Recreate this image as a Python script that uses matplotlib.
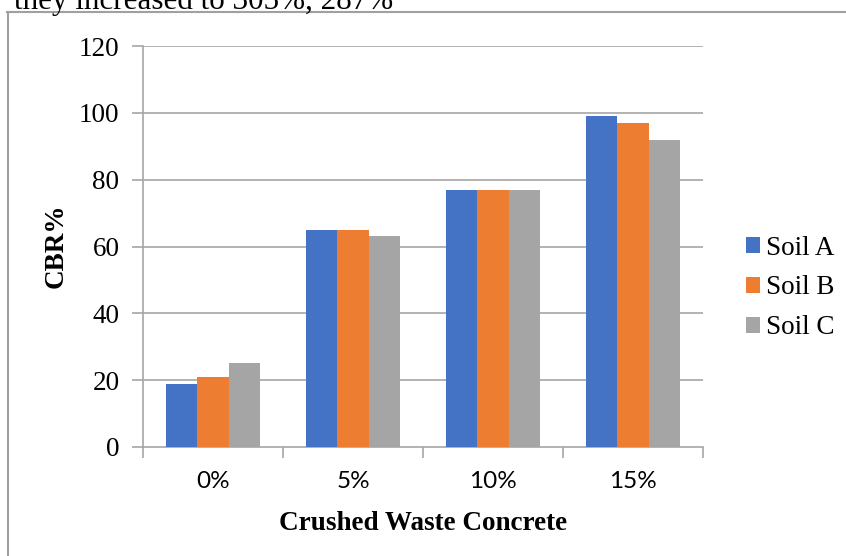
import matplotlib
matplotlib.use("Agg")
import matplotlib.pyplot as plt
from matplotlib.lines import Line2D
from matplotlib.patches import Patch
import numpy as np

categories = ["0%", "5%", "10%", "15%"]
series_names = ["Soil A", "Soil B", "Soil C"]
soil_a = [19, 65, 77, 99]
soil_b = [21, 65, 77, 97]
soil_c = [25, 63, 77, 92]
colors = ["#4472C4", "#ED7D31", "#A5A5A5"]
y_ticks = [0, 20, 40, 60, 80, 100, 120]

W, H = 846, 556
fig = plt.figure(figsize=(W / 100, H / 100), dpi=100)
serif = "Liberation Serif"

# plot area in pixel coordinates
x0, x1 = 143, 703
y_top, y_bot = 46, 447
ax = fig.add_axes([x0 / W, 1 - y_bot / H, (x1 - x0) / W, (y_bot - y_top) / H])

n = len(categories)
xc = np.arange(n) + 0.5
bw = 0.222
for i, (vals, c) in enumerate(zip([soil_a, soil_b, soil_c], colors)):
    ax.bar(xc + (i - 1) * bw, vals, width=bw, color=c, zorder=3)

ax.set_xlim(0, n)
ax.set_ylim(0, 120)
grid_c = "#A6A6A6"
for v in y_ticks[1:]:
    ax.axhline(v, color=grid_c, lw=1.2, zorder=1)
for s in ["top", "right"]:
    ax.spines[s].set_visible(False)
for s in ["left", "bottom"]:
    ax.spines[s].set_color(grid_c)
    ax.spines[s].set_linewidth(1.2)

ax.set_yticks(y_ticks)
ax.set_yticklabels([str(v) for v in y_ticks], fontfamily=serif, fontsize=19.5)
ax.tick_params(axis="y", length=8, width=1.2, color=grid_c, pad=9)

# category boundary ticks, labels centred in each slot
ax.set_xticks(np.arange(n + 1))
ax.set_xticklabels([""] * (n + 1))
ax.tick_params(axis="x", length=8, width=1.2, color=grid_c)
for x, lab in zip(xc, categories):
    ax.text(x, -0.085, lab, transform=ax.get_xaxis_transform(), ha="center",
            va="center", fontfamily="Lato", fontsize=17.5)

fig.text(423 / W, 1 - 530 / H, "Crushed Waste Concrete", ha="center", va="baseline",
         fontfamily=serif, fontsize=19.5, fontweight="bold")
fig.text(56 / W, 1 - 246 / H, "CBR%", ha="center", va="center", rotation=90,
         fontfamily=serif, fontsize=19.5, fontweight="bold")

handles = [Patch(facecolor=c, edgecolor="none") for c in colors]
leg = fig.legend(handles, series_names, loc="center left",
                 bbox_to_anchor=(746 / W, 1 - 288 / H), frameon=False,
                 borderpad=0, borderaxespad=0,
                 prop={"family": serif, "size": 19.5}, handlelength=0.53,
                 handleheight=0.53, handletextpad=0.2, labelspacing=0.55)

# outer frame of the chart object
frame_c = "#A0A0A0"
fig.add_artist(Line2D([8 / W, 8 / W], [0, 1 - 12 / H], transform=fig.transFigure,
                      color=frame_c, lw=1.5))
fig.add_artist(Line2D([7 / W, 1], [1 - 12 / H, 1 - 12 / H], transform=fig.transFigure,
                      color=frame_c, lw=1.5))

# line of body text running above the chart
fig.text(14 / W, 1 - 9 / H, "they increased to 305%, 287%", ha="left",
         va="baseline", fontfamily=serif, fontsize=22.4)

fig.savefig("out.png", dpi=100)
